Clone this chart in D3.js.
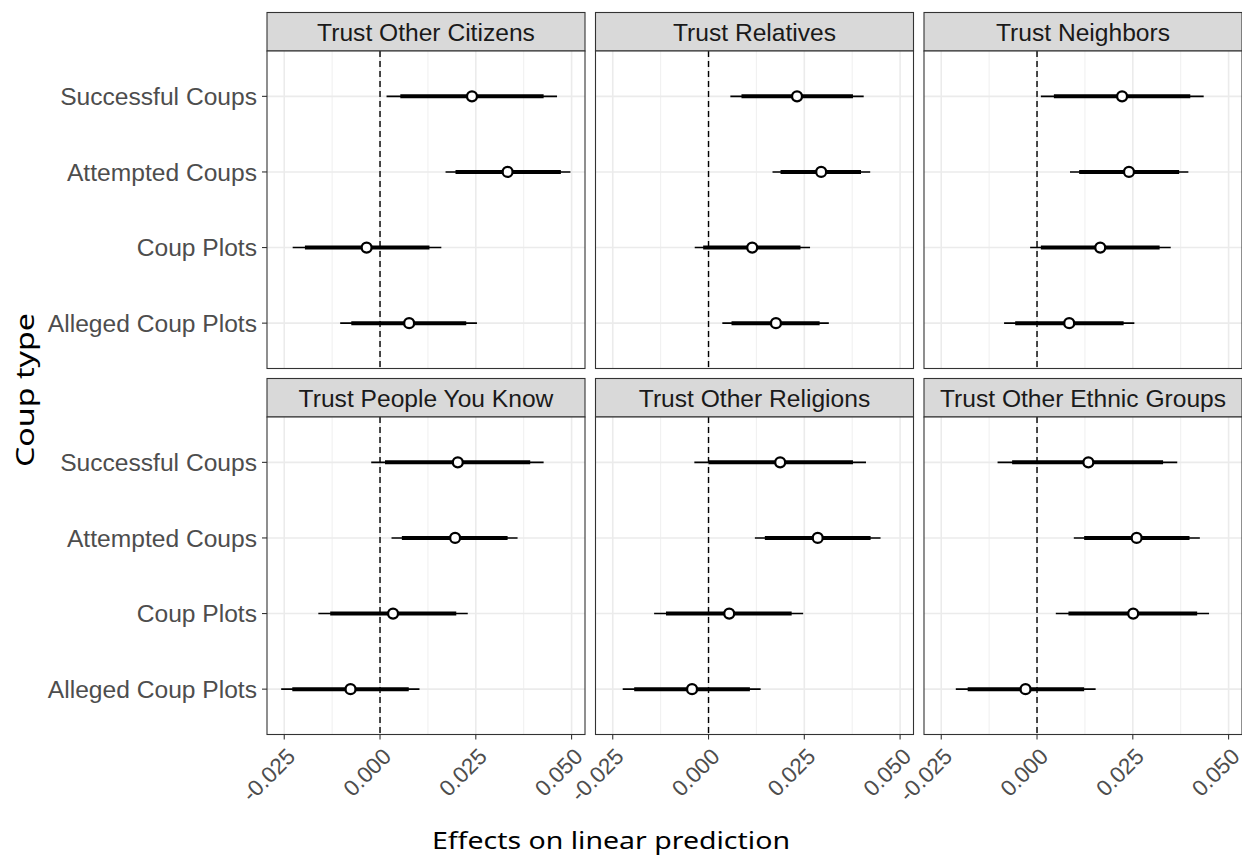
<!DOCTYPE html>
<html>
<head>
<meta charset="utf-8">
<script src="https://cdn.jsdelivr.net/npm/d3@7"></script>
<style>
  body { margin: 0; background: #fff; }
  svg { display: block; }
  .strip-label { font-family: "Liberation Sans", Arial, sans-serif; font-size: 24.6px; fill: #1a1a1a; }
  .y-label { font-family: "Liberation Sans", Arial, sans-serif; font-size: 24.6px; fill: #4d4d4d; }
  .x-label { font-family: "Liberation Sans", Arial, sans-serif; font-size: 22.5px; fill: #4d4d4d; }
  .axis-title { font-family: "Noto Sans", sans-serif; font-size: 24px; fill: #000; }
</style>
</head>
<body>
<svg id="chart"></svg>
<script>
const coupTypes = ["Successful Coups", "Attempted Coups", "Coup Plots", "Alleged Coup Plots"];
const outcomes = [
  "Trust Other Citizens", "Trust Relatives", "Trust Neighbors",
  "Trust People You Know", "Trust Other Religions", "Trust Other Ethnic Groups"
];
const xTicks = [-0.025, 0, 0.025, 0.05];
const xMinorTicks = [-0.0125, 0.0125, 0.0375];

// one row per outcome, values in coupTypes order
const estimates = [
  [0.0240, 0.0333, -0.0035, 0.0076],
  [0.0231, 0.0294, 0.0114, 0.0176],
  [0.0222, 0.0240, 0.0165, 0.0084],
  [0.0203, 0.0196, 0.0034, -0.0077],
  [0.0187, 0.0285, 0.0054, -0.0043],
  [0.0134, 0.0260, 0.0251, -0.0030]
];
const lower95 = [
  [0.0017, 0.0171, -0.0228, -0.0104],
  [0.0057, 0.0167, -0.0036, 0.0036],
  [0.0010, 0.0086, -0.0018, -0.0086],
  [-0.0023, 0.0030, -0.0161, -0.0258],
  [-0.0037, 0.0121, -0.0142, -0.0224],
  [-0.0103, 0.0096, 0.0049, -0.0212]
];
const lower90 = [
  [0.0053, 0.0197, -0.0196, -0.0075],
  [0.0086, 0.0188, -0.0014, 0.0060],
  [0.0044, 0.0110, 0.0010, -0.0057],
  [0.0013, 0.0057, -0.0130, -0.0229],
  [0.0000, 0.0147, -0.0111, -0.0194],
  [-0.0065, 0.0123, 0.0082, -0.0181]
];
const upper90 = [
  [0.0427, 0.0472, 0.0129, 0.0225],
  [0.0377, 0.0398, 0.0240, 0.0290],
  [0.0400, 0.0371, 0.0320, 0.0226],
  [0.0392, 0.0333, 0.0199, 0.0075],
  [0.0377, 0.0423, 0.0217, 0.0108],
  [0.0329, 0.0398, 0.0418, 0.0123]
];
const upper95 = [
  [0.0462, 0.0497, 0.0160, 0.0253],
  [0.0405, 0.0422, 0.0265, 0.0314],
  [0.0435, 0.0395, 0.0349, 0.0254],
  [0.0427, 0.0359, 0.0229, 0.0103],
  [0.0411, 0.0449, 0.0247, 0.0136],
  [0.0366, 0.0425, 0.0449, 0.0153]
];

const chartSize = {width: 1242, height: 857};
const panelLeft = 267;
const panelW = 318;
const colGap = 10.5;
const stripTop = 12.5;
const stripH = 38.5;
const panelH = 317.5;
const rowGap = 10;

const svg = d3.select("#chart")
  .attr("width", chartSize.width)
  .attr("height", chartSize.height);

const x = d3.scaleLinear().domain([-0.0295, 0.0535]).range([0, panelW]);
const y = d3.scalePoint().domain(coupTypes).range([0, panelH]).padding(0.6);

outcomes.forEach((name, i) => {
  const col = i % 3;
  const row = Math.floor(i / 3);
  const px = panelLeft + col * (panelW + colGap);
  const sy = stripTop + row * (stripH + panelH + rowGap);
  const py = sy + stripH;

  // strip
  svg.append("rect")
    .attr("x", px).attr("y", sy)
    .attr("width", panelW).attr("height", stripH)
    .attr("fill", "#d9d9d9").attr("stroke", "#333").attr("stroke-width", 1.1);
  svg.append("text")
    .attr("class", "strip-label")
    .attr("x", px + panelW / 2).attr("y", sy + stripH / 2)
    .attr("text-anchor", "middle").attr("dy", "0.36em")
    .text(name);

  const g = svg.append("g").attr("transform", `translate(${px},${py})`);

  g.append("rect").attr("width", panelW).attr("height", panelH).attr("fill", "#fff");

  g.selectAll(".minor").data(xMinorTicks).join("line")
    .attr("x1", d => x(d)).attr("x2", d => x(d))
    .attr("y1", 0).attr("y2", panelH)
    .attr("stroke", "#ebebeb").attr("stroke-width", 0.8);

  g.selectAll(".major").data(xTicks).join("line")
    .attr("x1", d => x(d)).attr("x2", d => x(d))
    .attr("y1", 0).attr("y2", panelH)
    .attr("stroke", "#ebebeb").attr("stroke-width", 1.6);

  g.selectAll(".hgrid").data(coupTypes).join("line")
    .attr("x1", 0).attr("x2", panelW)
    .attr("y1", d => y(d)).attr("y2", d => y(d))
    .attr("stroke", "#ebebeb").attr("stroke-width", 1.6);

  g.append("line")
    .attr("x1", x(0)).attr("x2", x(0))
    .attr("y1", 0).attr("y2", panelH)
    .attr("stroke", "#000").attr("stroke-width", 1.4)
    .attr("stroke-dasharray", "6,4");

  const rows = coupTypes.map((c, j) => ({
    c, est: estimates[i][j],
    lo95: lower95[i][j], hi95: upper95[i][j],
    lo90: lower90[i][j], hi90: upper90[i][j]
  }));

  g.selectAll(".ci95").data(rows).join("line")
    .attr("x1", d => x(d.lo95)).attr("x2", d => x(d.hi95))
    .attr("y1", d => y(d.c)).attr("y2", d => y(d.c))
    .attr("stroke", "#000").attr("stroke-width", 1.6);

  g.selectAll(".ci90").data(rows).join("line")
    .attr("x1", d => x(d.lo90)).attr("x2", d => x(d.hi90))
    .attr("y1", d => y(d.c)).attr("y2", d => y(d.c))
    .attr("stroke", "#000").attr("stroke-width", 4);

  g.selectAll(".pt").data(rows).join("circle")
    .attr("cx", d => x(d.est)).attr("cy", d => y(d.c))
    .attr("r", 5)
    .attr("fill", "#fff").attr("stroke", "#000").attr("stroke-width", 2.3);

  g.append("rect")
    .attr("width", panelW).attr("height", panelH)
    .attr("fill", "none").attr("stroke", "#333").attr("stroke-width", 1.1);

  if (col === 0) {
    const yAxis = g.append("g");
    yAxis.selectAll("line").data(coupTypes).join("line")
      .attr("x1", -5).attr("x2", 0)
      .attr("y1", d => y(d)).attr("y2", d => y(d))
      .attr("stroke", "#333").attr("stroke-width", 1.1);
    yAxis.selectAll("text").data(coupTypes).join("text")
      .attr("class", "y-label")
      .attr("x", -10).attr("y", d => y(d))
      .attr("text-anchor", "end").attr("dy", "0.36em")
      .text(d => d);
  }

  if (row === 1) {
    const xAxis = g.append("g").attr("transform", `translate(0,${panelH})`);
    xAxis.selectAll("line").data(xTicks).join("line")
      .attr("x1", d => x(d)).attr("x2", d => x(d))
      .attr("y1", 0).attr("y2", 5)
      .attr("stroke", "#333").attr("stroke-width", 1.1);
    xAxis.selectAll("text").data(xTicks).join("text")
      .attr("class", "x-label")
      .attr("transform", d => `translate(${x(d) + 1},${12}) rotate(-45)`)
      .attr("text-anchor", "end").attr("dy", "0.72em")
      .text(d => d3.format(".3f")(d).replace("−", "-"));
  }
});

svg.append("text")
  .attr("class", "axis-title")
  .attr("x", 611).attr("y", 849)
  .attr("text-anchor", "middle")
  .attr("textLength", 358).attr("lengthAdjust", "spacingAndGlyphs")
  .text("Effects on linear prediction");

svg.append("text")
  .attr("class", "axis-title")
  .style("font-size", "26px")
  .attr("transform", "translate(34,390) rotate(-90)")
  .attr("text-anchor", "middle")
  .attr("textLength", 154).attr("lengthAdjust", "spacingAndGlyphs")
  .text("Coup type");
</script>
</body>
</html>
